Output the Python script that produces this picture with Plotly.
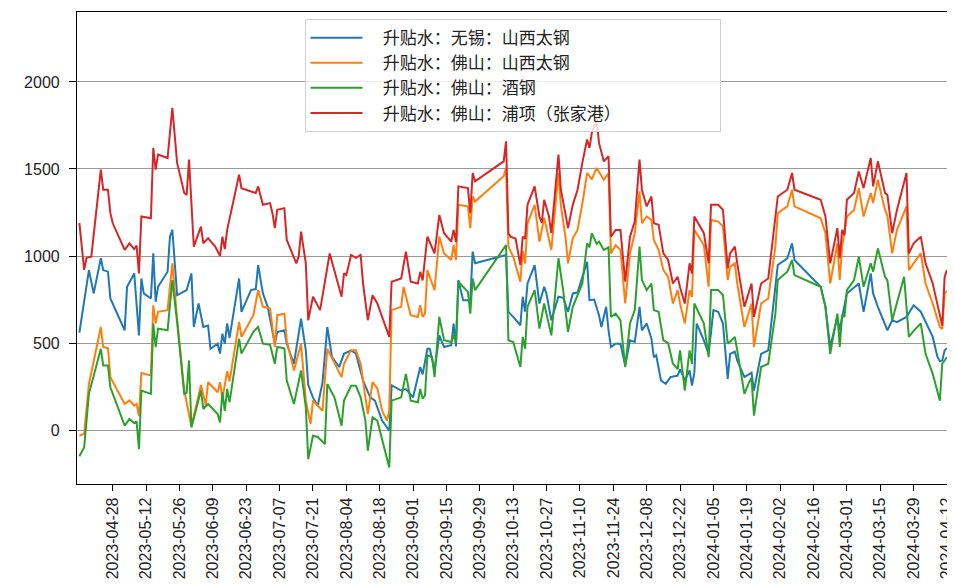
import plotly.graph_objects as go

# ---------------- data ----------------
wuxi_dates = [
 "2023-04-14","2023-04-18","2023-04-20","2023-04-23","2023-04-24","2023-04-26","2023-04-27",
 "2023-05-03","2023-05-04","2023-05-07","2023-05-09","2023-05-10","2023-05-11","2023-05-14",
 "2023-05-15","2023-05-16","2023-05-17","2023-05-21","2023-05-22","2023-05-23","2023-05-25",
 "2023-05-29","2023-05-31","2023-06-01","2023-06-03","2023-06-05","2023-06-07","2023-06-08",
 "2023-06-11","2023-06-12","2023-06-13","2023-06-14","2023-06-15","2023-06-16","2023-06-20",
 "2023-06-21","2023-06-25","2023-06-27","2023-06-28","2023-06-30","2023-07-02","2023-07-05",
 "2023-07-06","2023-07-09","2023-07-10","2023-07-13","2023-07-16","2023-07-18","2023-07-19",
 "2023-07-21","2023-07-23","2023-07-25","2023-07-27","2023-07-29","2023-08-01","2023-08-03",
 "2023-08-06","2023-08-08","2023-08-11","2023-08-14","2023-08-16","2023-08-19","2023-08-22",
 "2023-08-23","2023-08-27","2023-08-29","2023-09-01","2023-09-04","2023-09-05","2023-09-07",
 "2023-09-08","2023-09-10","2023-09-12","2023-09-14","2023-09-17","2023-09-18","2023-09-19",
 "2023-09-20","2023-09-22","2023-09-25","2023-09-26","2023-09-27","2023-10-10","2023-10-11",
 "2023-10-13","2023-10-16","2023-10-17","2023-10-18","2023-10-19","2023-10-22","2023-10-24",
 "2023-10-26","2023-10-27","2023-10-29","2023-11-01","2023-11-03","2023-11-05","2023-11-07",
 "2023-11-09","2023-11-11","2023-11-13","2023-11-14","2023-11-16","2023-11-18","2023-11-19",
 "2023-11-20","2023-11-21","2023-11-22","2023-11-23","2023-11-25","2023-11-27","2023-11-29",
 "2023-12-01","2023-12-03","2023-12-05","2023-12-06","2023-12-08","2023-12-10","2023-12-11",
 "2023-12-12","2023-12-14","2023-12-16","2023-12-18","2023-12-21","2023-12-22","2023-12-24",
 "2023-12-26","2023-12-27","2023-12-28","2023-12-29","2024-01-01","2024-01-03","2024-01-05",
 "2024-01-07","2024-01-09","2024-01-11","2024-01-12","2024-01-14","2024-01-15","2024-01-18",
 "2024-01-21","2024-01-22","2024-01-25","2024-01-28","2024-01-31","2024-02-01","2024-02-05",
 "2024-02-07","2024-02-08","2024-02-19","2024-02-21","2024-02-23","2024-02-26","2024-02-27",
 "2024-02-28","2024-03-01","2024-03-06","2024-03-08","2024-03-11","2024-03-12","2024-03-14",
 "2024-03-18","2024-03-20","2024-03-22","2024-03-26","2024-03-29","2024-04-01","2024-04-06",
 "2024-04-08","2024-04-09","2024-04-10","2024-04-11","2024-04-12"]
wuxi_vals = [
 560, 919, 785, 987, 919, 910, 756,
 573, 823, 900, 544, 871, 785, 756,
 1015, 737, 823, 910, 1111, 1150, 775,
 804, 900, 592, 727, 592, 600, 467,
 496, 439, 554, 496, 612, 530, 871,
 679, 804, 810, 948, 785, 708, 496,
 563, 573, 496, 381, 640, 458, 260,
 186, 140, 273, 592, 419, 362, 438,
 458, 440, 285, 188, 169, 54, -4,
 256, 227, 235, 188, 362, 320, 467,
 467, 342, 544, 477, 487, 612, 480,
 862, 746, 746, 1025, 958, 1006, 679,
 650, 602, 766, 680, 842, 948, 727,
 823, 780, 631, 766, 760, 679, 785,
 790, 881, 967, 746, 750, 660, 592,
 650, 708, 573, 477, 496, 496, 371,
 515, 506, 708, 573, 612, 525, 419,
 430, 285, 265, 304, 313, 350, 285,
 342, 256, 330, 612, 515, 438, 689,
 680, 612, 294, 438, 450, 400, 304,
 330, 227, 438, 458, 804, 948, 987,
 1073, 977, 823, 708, 477, 650, 573,
 650, 785, 842, 679, 900, 785, 708,
 573, 631, 620, 650, 717, 680, 535,
 420, 396, 400, 458, 470]

fs_ty_dates = [
 "2023-04-14","2023-04-16","2023-04-18","2023-04-23","2023-04-24","2023-04-26","2023-04-27",
 "2023-05-03","2023-05-05","2023-05-07","2023-05-08","2023-05-09","2023-05-10","2023-05-14",
 "2023-05-15","2023-05-16","2023-05-17","2023-05-21","2023-05-23","2023-05-25","2023-05-28",
 "2023-05-31","2023-06-04","2023-06-06","2023-06-07","2023-06-11","2023-06-12","2023-06-13",
 "2023-06-15","2023-06-16","2023-06-20","2023-06-21","2023-06-26","2023-06-28","2023-06-30",
 "2023-07-03","2023-07-05","2023-07-06","2023-07-09","2023-07-10","2023-07-13","2023-07-16",
 "2023-07-18","2023-07-20","2023-07-21","2023-07-25","2023-07-27","2023-07-30","2023-08-02",
 "2023-08-03","2023-08-06","2023-08-08","2023-08-10","2023-08-11","2023-08-13","2023-08-15",
 "2023-08-17","2023-08-19","2023-08-21","2023-08-22","2023-08-23","2023-08-27","2023-08-28",
 "2023-08-31","2023-09-03","2023-09-04","2023-09-05","2023-09-06","2023-09-07","2023-09-10",
 "2023-09-12","2023-09-14","2023-09-17","2023-09-18","2023-09-19","2023-09-20","2023-09-24",
 "2023-09-25","2023-09-26","2023-09-27","2023-10-09","2023-10-10","2023-10-11","2023-10-13",
 "2023-10-16","2023-10-17","2023-10-18","2023-10-19","2023-10-22","2023-10-24","2023-10-26",
 "2023-10-29","2023-11-01","2023-11-02","2023-11-04","2023-11-05","2023-11-07","2023-11-09",
 "2023-11-11","2023-11-13","2023-11-15","2023-11-17","2023-11-20","2023-11-22","2023-11-23",
 "2023-11-25","2023-11-27","2023-11-29","2023-12-01","2023-12-03","2023-12-05","2023-12-06",
 "2023-12-08","2023-12-10","2023-12-11","2023-12-13","2023-12-15","2023-12-17","2023-12-19",
 "2023-12-21","2023-12-22","2023-12-24","2023-12-26","2023-12-27","2023-12-28","2024-01-01",
 "2024-01-03","2024-01-04","2024-01-07","2024-01-09","2024-01-11","2024-01-12","2024-01-14",
 "2024-01-15","2024-01-18","2024-01-21","2024-01-22","2024-01-25","2024-01-28","2024-01-31",
 "2024-02-01","2024-02-05","2024-02-07","2024-02-08","2024-02-19","2024-02-21","2024-02-23",
 "2024-02-26","2024-02-27","2024-02-28","2024-03-01","2024-03-04","2024-03-06","2024-03-08",
 "2024-03-11","2024-03-12","2024-03-14","2024-03-17","2024-03-18","2024-03-20","2024-03-22",
 "2024-03-26","2024-03-27","2024-03-29","2024-04-01","2024-04-03","2024-04-06","2024-04-09",
 "2024-04-10","2024-04-11","2024-04-12"]
fs_ty_vals = [
 -33, -20, 265, 592, 477, 470, 304,
 150, 170, 140, 150, 80, 327, 313,
 717, 612, 679, 689, 958, 640, 227,
 20, 259, 144, 275, 217, 275, 179,
 338, 280, 621, 535, 660, 804, 708,
 700, 477, 660, 669, 515, 342, 496,
 169, 35, 169, 111, 467, 381, 304,
 381, 458, 458, 381, 285, 92, 275,
 240, 111, 54, 111, 689, 708, 823,
 660, 650, 717, 650, 669, 919, 804,
 1111, 1015, 977, 1063, 977, 1294, 1285,
 1160, 1342, 1313, 1458, 1506, 1054, 996,
 852, 1030, 958, 1188, 1294, 1082, 1220,
 1035, 1477, 1290, 1102, 958, 1102, 1150,
 1300, 1477, 1440, 1506, 1438, 1476, 1015,
 1063, 1035, 727, 1015, 1131, 1371, 1188,
 1227, 1207, 1092, 1035, 919, 880, 727,
 804, 727, 612, 804, 765, 1150, 1063,
 823, 1207, 1198, 1170, 862, 938, 958,
 842, 592, 727, 477, 727, 756, 1054,
 1246, 1285, 1381, 1285, 1217, 1131, 842,
 1073, 862, 1054, 1227, 1265, 1390, 1227,
 1362, 1304, 1438, 1265, 1230, 1015, 1150,
 1285, 919, 958, 1015, 842, 727, 592,
 580, 785, 800]

fs_jg_dates = [
 "2023-04-14","2023-04-16","2023-04-18","2023-04-23","2023-04-24","2023-04-26","2023-04-27",
 "2023-05-03","2023-05-05","2023-05-07","2023-05-08","2023-05-09","2023-05-10","2023-05-14",
 "2023-05-15","2023-05-16","2023-05-17","2023-05-21","2023-05-23","2023-05-25","2023-05-28",
 "2023-05-29","2023-05-30","2023-05-31","2023-06-04","2023-06-05","2023-06-07","2023-06-11",
 "2023-06-12","2023-06-13","2023-06-14","2023-06-15","2023-06-16","2023-06-20","2023-06-21",
 "2023-06-26","2023-06-28","2023-06-30","2023-07-03","2023-07-05","2023-07-06","2023-07-09",
 "2023-07-10","2023-07-13","2023-07-16","2023-07-18","2023-07-19","2023-07-21","2023-07-23",
 "2023-07-26","2023-07-27","2023-07-30","2023-08-02","2023-08-03","2023-08-06","2023-08-08",
 "2023-08-10","2023-08-12","2023-08-13","2023-08-15","2023-08-17","2023-08-19","2023-08-22",
 "2023-08-23","2023-08-27","2023-08-29","2023-08-31","2023-09-03","2023-09-04","2023-09-05",
 "2023-09-06","2023-09-07","2023-09-09","2023-09-10","2023-09-12","2023-09-14","2023-09-17",
 "2023-09-18","2023-09-19","2023-09-20","2023-09-24","2023-09-25","2023-09-26","2023-09-27",
 "2023-10-10","2023-10-11","2023-10-13","2023-10-16","2023-10-17","2023-10-18","2023-10-19",
 "2023-10-22","2023-10-24","2023-10-26","2023-10-29","2023-11-01","2023-11-03","2023-11-05",
 "2023-11-07","2023-11-11","2023-11-13","2023-11-14","2023-11-15","2023-11-17","2023-11-18",
 "2023-11-20","2023-11-22","2023-11-23","2023-11-25","2023-11-27","2023-11-29","2023-12-01",
 "2023-12-03","2023-12-05","2023-12-06","2023-12-08","2023-12-10","2023-12-11","2023-12-13",
 "2023-12-15","2023-12-17","2023-12-19","2023-12-21","2023-12-22","2023-12-24","2023-12-26",
 "2023-12-27","2023-12-28","2024-01-01","2024-01-03","2024-01-04","2024-01-07","2024-01-09",
 "2024-01-11","2024-01-12","2024-01-14","2024-01-15","2024-01-18","2024-01-20","2024-01-21",
 "2024-01-22","2024-01-25","2024-01-28","2024-01-31","2024-02-01","2024-02-05","2024-02-07",
 "2024-02-08","2024-02-19","2024-02-21","2024-02-23","2024-02-26","2024-02-27","2024-02-28",
 "2024-02-29","2024-03-01","2024-03-04","2024-03-06","2024-03-08","2024-03-11","2024-03-12",
 "2024-03-14","2024-03-17","2024-03-18","2024-03-20","2024-03-22","2024-03-25","2024-03-27",
 "2024-03-29","2024-04-01","2024-04-03","2024-04-06","2024-04-09","2024-04-10","2024-04-12"]
fs_jg_vals = [
 -150, -100, 208, 467, 371, 371, 246,
 25, 63, 40, 50, -110, 227, 208,
 612, 477, 583, 573, 862, 620, 208,
 215, 400, 15, 227, 121, 150, 92,
 44, 217, 110, 236, 160, 525, 439,
 564, 592, 496, 490, 381, 477, 470,
 285, 150, 342, 131, -167, -33, -40,
 -81, 265, 188, 25, 169, 254, 254,
 188, 54, -119, 73, 54, -52, -215,
 169, 188, 323, 169, 160, 236, 180,
 200, 430, 419, 304, 650, 516, 506,
 544, 500, 852, 794, 669, 871, 804,
 1063, 516, 506, 362, 535, 467, 708,
 804, 583, 727, 544, 987, 800, 564,
 708, 842, 1073, 1050, 1131, 1070, 1083,
 1035, 1050, 650, 669, 630, 362, 612,
 689, 1054, 862, 804, 842, 689, 680,
 515, 500, 381, 350, 458, 227, 458,
 380, 727, 612, 419, 804, 804, 775,
 496, 510, 535, 458, 208, 275, 300,
 83, 362, 381, 669, 862, 910, 977,
 890, 823, 708, 438, 669, 477, 660,
 650, 804, 862, 996, 823, 958, 910,
 1044, 881, 860, 631, 727, 881, 535,
 570, 612, 438, 323, 169, 381, 419]

fs_px_dates = [
 "2023-04-14","2023-04-16","2023-04-17","2023-04-19","2023-04-23","2023-04-24","2023-04-26",
 "2023-04-27","2023-04-28","2023-05-03","2023-05-05","2023-05-07","2023-05-08","2023-05-09",
 "2023-05-10","2023-05-14","2023-05-15","2023-05-16","2023-05-17","2023-05-21","2023-05-23",
 "2023-05-25","2023-05-28","2023-05-29","2023-05-30","2023-06-01","2023-06-04","2023-06-05",
 "2023-06-07","2023-06-10","2023-06-12","2023-06-13","2023-06-14","2023-06-15","2023-06-20",
 "2023-06-21","2023-06-27","2023-06-28","2023-06-30","2023-07-03","2023-07-04","2023-07-05",
 "2023-07-06","2023-07-09","2023-07-10","2023-07-11","2023-07-14","2023-07-15","2023-07-16",
 "2023-07-18","2023-07-19","2023-07-21","2023-07-24","2023-07-28","2023-07-30","2023-08-02",
 "2023-08-03","2023-08-04","2023-08-06","2023-08-08","2023-08-10","2023-08-11","2023-08-13",
 "2023-08-15","2023-08-17","2023-08-19","2023-08-22","2023-08-23","2023-08-27","2023-08-29",
 "2023-08-31","2023-09-03","2023-09-04","2023-09-05","2023-09-07","2023-09-10","2023-09-12",
 "2023-09-14","2023-09-17","2023-09-18","2023-09-19","2023-09-20","2023-09-24","2023-09-25",
 "2023-09-26","2023-09-27","2023-10-09","2023-10-10","2023-10-11","2023-10-12","2023-10-14",
 "2023-10-16","2023-10-17","2023-10-18","2023-10-19","2023-10-22","2023-10-24","2023-10-25",
 "2023-10-26","2023-10-28","2023-10-29","2023-11-01","2023-11-02","2023-11-04","2023-11-05",
 "2023-11-07","2023-11-09","2023-11-11","2023-11-13","2023-11-14","2023-11-15","2023-11-17",
 "2023-11-18","2023-11-20","2023-11-22","2023-11-23","2023-11-25","2023-11-27","2023-11-29",
 "2023-12-01","2023-12-03","2023-12-05","2023-12-06","2023-12-08","2023-12-10","2023-12-11",
 "2023-12-13","2023-12-15","2023-12-17","2023-12-19","2023-12-21","2023-12-22","2023-12-24",
 "2023-12-26","2023-12-27","2023-12-28","2024-01-01","2024-01-03","2024-01-04","2024-01-07",
 "2024-01-09","2024-01-11","2024-01-12","2024-01-14","2024-01-15","2024-01-18","2024-01-21",
 "2024-01-22","2024-01-25","2024-01-28","2024-02-01","2024-02-05","2024-02-07","2024-02-08",
 "2024-02-19","2024-02-21","2024-02-23","2024-02-26","2024-02-27","2024-02-28","2024-02-29",
 "2024-03-01","2024-03-04","2024-03-06","2024-03-08","2024-03-11","2024-03-12","2024-03-14",
 "2024-03-17","2024-03-18","2024-03-20","2024-03-22","2024-03-26","2024-03-27","2024-03-29",
 "2024-04-01","2024-04-03","2024-04-06","2024-04-09","2024-04-10","2024-04-11","2024-04-12"]
fs_px_vals = [
 1190, 920, 990, 996, 1496, 1381, 1381,
 1246, 1188, 1035, 1073, 1040, 1060, 900,
 1227, 1217, 1621, 1496, 1583, 1563, 1852,
 1535, 1362, 1350, 1554, 1054, 1169, 1073,
 1102, 1054, 1000, 1111, 1040, 1150, 1467,
 1390, 1362, 1400, 1294, 1304, 1246, 1160,
 1265, 1275, 1092, 1060, 958, 996, 1140,
 958, 631, 766, 689, 1015, 919, 766,
 900, 890, 1006, 990, 1006, 842, 631,
 775, 727, 650, 535, 852, 871, 1025,
 852, 842, 909, 860, 1111, 1015, 1236,
 1131, 1082, 1150, 1080, 1400, 1390, 1246,
 1477, 1429, 1544, 1659, 1131, 1110, 1100,
 948, 1111, 1100, 1294, 1400, 1227, 1190,
 1323, 1227, 1131, 1583, 1381, 1236, 1160,
 1294, 1381, 1535, 1669, 1621, 1708, 1790,
 1650, 1544, 1573, 1111, 1150, 1150, 852,
 1111, 1198, 1554, 1381, 1285, 1342, 1188,
 1180, 1015, 977, 842, 881, 820, 727,
 958, 900, 1227, 1131, 958, 1294, 1294,
 1265, 929, 1015, 1054, 958, 708, 842,
 650, 842, 871, 1342, 1381, 1477, 1381,
 1323, 1227, 958, 1160, 987, 1150, 1120,
 1323, 1362, 1486, 1390, 1563, 1400, 1544,
 1362, 1350, 1131, 1265, 1477, 1015, 1073,
 1111, 958, 842, 650, 600, 880, 920]

series_names = ["升贴水：无锡：山西太钢", "升贴水：佛山：山西太钢",
                "升贴水：佛山：酒钢", "升贴水：佛山：浦项（张家港）"]
series_colors = ["#1f77b4", "#ff7f0e", "#2ca02c", "#d62728"]
x_tick_vals = ["2023-04-28", "2023-05-12", "2023-05-26", "2023-06-09", "2023-06-23",
               "2023-07-07", "2023-07-21", "2023-08-04", "2023-08-18", "2023-09-01",
               "2023-09-15", "2023-09-29", "2023-10-13", "2023-10-27", "2023-11-10",
               "2023-11-24", "2023-12-08", "2023-12-22", "2024-01-05", "2024-01-19",
               "2024-02-02", "2024-02-16", "2024-03-01", "2024-03-15", "2024-03-29",
               "2024-04-12"]
y_tick_vals = [0, 500, 1000, 1500, 2000]

# ---------------- figure ----------------
all_dates = [wuxi_dates, fs_ty_dates, fs_jg_dates, fs_px_dates]
all_vals = [wuxi_vals, fs_ty_vals, fs_jg_vals, fs_px_vals]

lead = "\u00a0" * 4
tail = "\u3000" * 6
fig = go.Figure()
for d, v, n, c in zip(all_dates, all_vals, series_names, series_colors):
    fig.add_trace(go.Scatter(x=d, y=v, mode="lines", name=lead + n + tail,
                             line=dict(color=c, width=2)))

# the page body adds an 8px offset, so the figure is 8px smaller
fig.update_layout(
    width=947, height=576,
    margin=dict(l=69, r=7, t=4, b=100, autoexpand=False),
    paper_bgcolor="white", plot_bgcolor="white",
    font=dict(family="Liberation Sans, Arial, sans-serif", color="#222"),
    showlegend=True,
    legend=dict(x=0.5, xanchor="center", y=0.985, yanchor="top",
                bgcolor="rgba(255,255,255,0.8)", bordercolor="#d0d0d0", borderwidth=1,
                font=dict(family="Noto Sans CJK SC", size=17, color="#222"),
                itemwidth=52, tracegroupgap=0),
)
fig.update_xaxes(
    range=["2023-04-13", "2024-04-12 10:00"], automargin=False,
    tickmode="array", tickvals=x_tick_vals, ticktext=x_tick_vals,
    tickangle=-90, tickfont=dict(size=16, family="Liberation Sans"),
    ticklabeloverflow="allow",
    showgrid=False, showline=True, linecolor="black", linewidth=1.2, mirror=True,
    ticks="outside", ticklen=6, tickcolor="black", zeroline=False,
)
fig.update_yaxes(
    range=[-310, 2402], automargin=False,
    tickmode="array", tickvals=y_tick_vals,
    tickfont=dict(size=16),
    showgrid=True, gridcolor="#9a9a9a", gridwidth=1,
    showline=True, linecolor="black", linewidth=1.2, mirror=True,
    ticks="outside", ticklen=7, tickcolor="black", zeroline=False,
    ticklabelstandoff=6,
)

fig.write_html("out.html")
